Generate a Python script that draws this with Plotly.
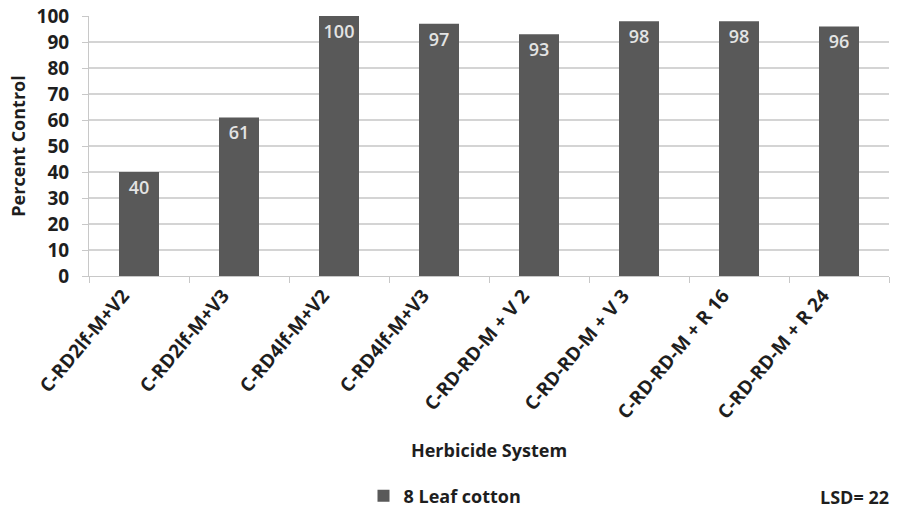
import plotly.graph_objects as go

# Données
systems = ["C-RD2lf-M+V2", "C-RD2lf-M+V3", "C-RD4lf-M+V2", "C-RD4lf-M+V3",
           "C-RD-RD-M + V 2", "C-RD-RD-M + V 3", "C-RD-RD-M + R 16", "C-RD-RD-M + R 24"]
control = [40, 61, 100, 97, 93, 98, 98, 96]
series_name = "8 Leaf cotton"
lsd_text = "LSD= 22"

FONT = "Open Sans"
BAR = "#595959"
INK = "#1e1e1e"

fig = go.Figure()
fig.add_trace(go.Bar(
    x=systems,
    y=control,
    name=series_name,
    marker=dict(color=BAR, line=dict(width=0)),
    text=[str(v) for v in control],
    textposition="inside",
    insidetextanchor="end",
    textfont=dict(family=FONT, size=18, color="#e4e4e4", weight=600),
    cliponaxis=False,
    width=0.4,
))

fig.update_layout(
    width=898, height=512,
    margin=dict(l=89, r=9, t=16, b=236, autoexpand=False),
    plot_bgcolor="white", paper_bgcolor="white",
    font=dict(family=FONT, color=INK),
    showlegend=True,
    legend=dict(
        orientation="h", x=0.445, y=-0.846, xanchor="center", yanchor="middle",
        font=dict(family=FONT, size=18, color=INK, weight="bold"),
        itemwidth=30,
    ),
    annotations=[dict(
        text="<b>" + lsd_text + "</b>", xref="paper", yref="paper",
        x=1.002, y=-0.85, xanchor="right", yanchor="middle", showarrow=False,
        font=dict(family=FONT, size=18, color=INK),
    )],
)

fig.update_xaxes(
    tickangle=-50,
    tickfont=dict(family=FONT, size=19, color=INK, weight="bold"),
    tickson="boundaries",
    ticklabelshift=-16,
    ticks="outside", ticklen=6, tickcolor="#c8c8c8",
    showline=True, linecolor="#c8c8c8", linewidth=1,
    automargin=False,
    title=dict(text="<b>Herbicide System</b>", font=dict(family=FONT, size=18), standoff=21),
)
fig.update_yaxes(
    range=[0, 100], dtick=10,
    tickfont=dict(family=FONT, size=19, color=INK, weight="bold"),
    ticklabelstandoff=9,
    showgrid=True, gridcolor="#d4d4d4", gridwidth=1.5,
    showline=True, linecolor="#c8c8c8", linewidth=1,
    ticks="outside", ticklen=6, tickcolor="#c8c8c8",
    zeroline=False, automargin=False,
    title=dict(text="<b>Percent Control</b>", font=dict(family=FONT, size=18), standoff=6),
)

# la page par défaut a une marge de 8 px autour du graphique
fig.write_html("out.html", config={"displayModeBar": False},
               post_script="document.body.style.margin='0';")
